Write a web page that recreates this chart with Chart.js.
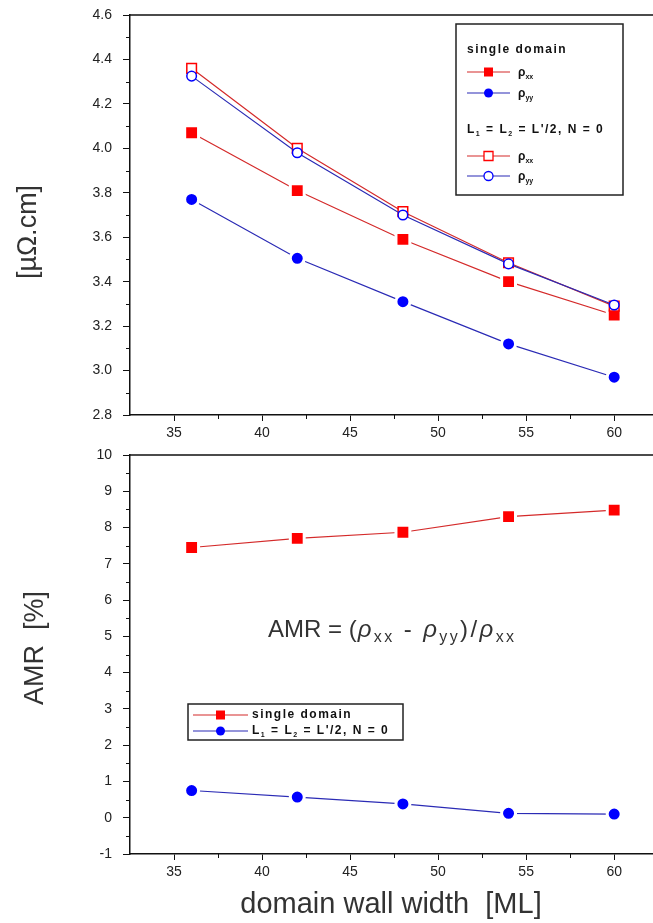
<!DOCTYPE html>
<html>
<head>
<meta charset="utf-8">
<script src="https://cdn.jsdelivr.net/npm/chart.js@4.4.1/dist/chart.umd.min.js"></script>
<style>
  html, body { margin: 0; padding: 0; background: #fff; overflow: hidden; }
  body { width: 653px; height: 923px; position: relative; }
  .box { position: absolute; left: 0; width: 671px; }
  #topBox { top: 0; height: 450px; }
  #bottomBox { top: 440px; height: 483px; }
</style>
</head>
<body>
<div class="box" id="topBox"><canvas id="top"></canvas></div>
<div class="box" id="bottomBox"><canvas id="bottom"></canvas></div>
<script>
// domain wall width [ML]
const widths = [36, 42, 48, 54, 60];

// resistivity, µΩ.cm
const rhoXXSingle = [4.07, 3.81, 3.59, 3.40, 3.25];
const rhoYYSingle = [3.77, 3.505, 3.31, 3.12, 2.97];
const rhoXXSplit = [4.36, 4.00, 3.715, 3.485, 3.29];
const rhoYYSplit = [4.325, 3.98, 3.70, 3.48, 3.295];

// AMR, %
const amrSingle = [7.45, 7.7, 7.87, 8.3, 8.48];
const amrSplit = [0.75, 0.57, 0.38, 0.12, 0.1];

// axis ticks
const xTicks = [35, 40, 45, 50, 55, 60];
const xMinor = [37.5, 42.5, 47.5, 52.5, 57.5];
const rhoTicks = [2.8, 3.0, 3.2, 3.4, 3.6, 3.8, 4.0, 4.2, 4.4, 4.6];
const rhoMinor = [2.9, 3.1, 3.3, 3.5, 3.7, 3.9, 4.1, 4.3, 4.5];
const amrTicks = [-1, 0, 1, 2, 3, 4, 5, 6, 7, 8, 9, 10];
const amrMinor = [-0.5, 0.5, 1.5, 2.5, 3.5, 4.5, 5.5, 6.5, 7.5, 8.5, 9.5];

const FONT = 'Arial, "Liberation Sans", sans-serif';
const RED = '#ff0000', RED_LINE = '#d42a2a';
const BLUE = '#0000ff', BLUE_LINE = '#2b2bb5';

const pts = ys => widths.map((w, i) => ({ x: w, y: ys[i] }));

function filled(label, ys, color, lineColor, style) {
  return {
    label, data: pts(ys), borderColor: lineColor, borderWidth: 1.2,
    pointStyle: style, pointRadius: style === 'rect' ? 9.8 : 7,
    pointBackgroundColor: color, pointBorderColor: '#fff', pointBorderWidth: 3
  };
}
function open(label, ys, color, lineColor, style) {
  return {
    label, data: pts(ys), borderColor: lineColor, borderWidth: 1.2,
    pointStyle: style, pointRadius: style === 'rect' ? 6.8 : 4.8,
    pointBackgroundColor: '#fff', pointBorderColor: color, pointBorderWidth: 1.5
  };
}

// text with subscripts: parts = [[text, isSub, italic], ...]
function subText(ctx, parts, x, y, size, weight, spacing, subScale = 0.62) {
  ctx.textAlign = 'left';
  ctx.textBaseline = 'middle';
  for (const [t, sub, italic] of parts) {
    const s = sub ? Math.round(size * subScale) : size;
    ctx.font = (italic ? 'italic ' : '') + weight + ' ' + s + 'px ' + FONT;
    if ('letterSpacing' in ctx) ctx.letterSpacing = spacing + 'px';
    ctx.fillText(t, x, sub ? y + size * 0.3 : y);
    x += ctx.measureText(t).width;
  }
  if ('letterSpacing' in ctx) ctx.letterSpacing = '0px';
  return x;
}

function marker(ctx, style, fill, color, x, y, size) {
  ctx.beginPath();
  if (style === 'rect') ctx.rect(x - size / 2, y - size / 2, size, size);
  else ctx.arc(x, y, size / 2, 0, Math.PI * 2);
  if (fill) { ctx.fillStyle = color; ctx.fill(); }
  else { ctx.fillStyle = '#fff'; ctx.fill(); ctx.lineWidth = 1.3; ctx.strokeStyle = color; ctx.stroke(); }
}

function legendRow(ctx, x0, x1, y, style, fill, color, lineColor) {
  ctx.strokeStyle = lineColor;
  ctx.lineWidth = 1.2;
  ctx.beginPath(); ctx.moveTo(x0, y); ctx.lineTo(x1, y); ctx.stroke();
  marker(ctx, style, fill, color, (x0 + x1) / 2, y, 9);
  ctx.fillStyle = '#111';
}

// frame on top/right plus minor ticks
const frame = {
  id: 'frame',
  afterDraw(chart, args, opts) {
    const { ctx, chartArea: a, scales } = chart;
    ctx.save();
    ctx.strokeStyle = '#111';
    ctx.lineWidth = 1.5;
    ctx.beginPath();
    ctx.moveTo(a.left, a.top); ctx.lineTo(a.right, a.top); ctx.lineTo(a.right, a.bottom);
    ctx.stroke();
    ctx.lineWidth = 1;
    ctx.beginPath();
    opts.xMinor.forEach(v => {
      const px = Math.round(scales.x.getPixelForValue(v)) + 0.5;
      ctx.moveTo(px, a.bottom); ctx.lineTo(px, a.bottom + 4);
    });
    opts.yMinor.forEach(v => {
      const py = Math.round(scales.y.getPixelForValue(v)) + 0.5;
      ctx.moveTo(a.left, py); ctx.lineTo(a.left - 4, py);
    });
    ctx.stroke();
    ctx.restore();
  }
};

// axis titles and annotations
const decor = {
  id: 'decor',
  afterDraw(chart, args, opts) { opts.draw(chart.ctx, chart); }
};

function scales(yTicks, yMin, yMax) {
  return {
    x: {
      type: 'linear', min: 32.5, max: 62.5,
      afterBuildTicks: s => { s.ticks = xTicks.map(v => ({ value: v })); },
      afterFit: s => {
        s.height = s.chart.height - s.chart.options.bottomEdge;
        s.paddingLeft = 0; s.paddingRight = 0;
      },
      grid: { drawOnChartArea: false, tickLength: 6, color: '#111' },
      border: { color: '#111', width: 1.5 },
      ticks: { padding: 4, color: '#222', font: { family: FONT, size: 14 }, maxRotation: 0 }
    },
    y: {
      type: 'linear', min: yMin, max: yMax,
      afterBuildTicks: s => { s.ticks = yTicks.map(v => ({ value: v })); },
      afterFit: s => { s.width = 130; s.paddingTop = 0; s.paddingBottom = 0; },
      grid: { drawOnChartArea: false, tickLength: 7, color: '#111' },
      border: { color: '#111', width: 1.5 },
      ticks: {
        padding: 11, color: '#222', font: { family: FONT, size: 14 },
        callback: v => (yMax < 5 ? v.toFixed(1) : String(v))
      }
    }
  };
}

const common = {
  responsive: true,
  maintainAspectRatio: false,
  animation: false,
  events: [],
  plugins: { legend: { display: false }, tooltip: { enabled: false } }
};

new Chart(document.getElementById('top'), {
  type: 'line',
  data: {
    datasets: [
      open('rho_yy L1 = L2', rhoYYSplit, BLUE, BLUE_LINE, 'circle'),
      open('rho_xx L1 = L2', rhoXXSplit, RED, RED_LINE, 'rect'),
      filled('rho_xx single domain', rhoXXSingle, RED, RED_LINE, 'rect'),
      filled('rho_yy single domain', rhoYYSingle, BLUE, BLUE_LINE, 'circle')
    ]
  },
  options: {
    ...common,
    bottomEdge: 415,
    layout: { padding: { left: 0, top: 15, right: 2, bottom: 0 } },
    scales: scales(rhoTicks, 2.8, 4.6),
    plugins: {
      ...common.plugins,
      frame: { xMinor, yMinor: rhoMinor },
      decor: {
        draw(ctx) {
          ctx.save();
          ctx.fillStyle = '#333';
          ctx.translate(29, 232);
          ctx.rotate(-Math.PI / 2);
          ctx.font = '27px ' + FONT;
          ctx.textAlign = 'center';
          ctx.textBaseline = 'middle';
          ctx.fillText('[µΩ.cm]', 0, 0);
          ctx.restore();

          ctx.save();
          ctx.fillStyle = '#fff';
          ctx.fillRect(456, 24, 167, 171);
          ctx.strokeStyle = '#222';
          ctx.lineWidth = 1.5;
          ctx.strokeRect(456, 24, 167, 171);
          ctx.fillStyle = '#111';
          subText(ctx, [['single domain']], 467, 50, 12, 'bold', 1.5);
          legendRow(ctx, 467, 510, 72, 'rect', true, RED, RED_LINE);
          subText(ctx, [['ρ'], ['xx', true]], 518, 73, 12, 'bold', 0);
          legendRow(ctx, 467, 510, 93, 'circle', true, BLUE, BLUE_LINE);
          subText(ctx, [['ρ'], ['yy', true]], 518, 94, 12, 'bold', 0);
          subText(ctx, [['L'], ['1', true], [' = L'], ['2', true], [' = L\'/2, N = 0']], 467, 130, 12, 'bold', 1.5);
          legendRow(ctx, 467, 510, 156, 'rect', false, RED, RED_LINE);
          subText(ctx, [['ρ'], ['xx', true]], 518, 157, 12, 'bold', 0);
          legendRow(ctx, 467, 510, 176, 'circle', false, BLUE, BLUE_LINE);
          subText(ctx, [['ρ'], ['yy', true]], 518, 177, 12, 'bold', 0);
          ctx.restore();
        }
      }
    }
  },
  plugins: [frame, decor]
});

new Chart(document.getElementById('bottom'), {
  type: 'line',
  data: {
    datasets: [
      filled('single domain', amrSingle, RED, RED_LINE, 'rect'),
      filled("L1 = L2 = L'/2, N = 0", amrSplit, BLUE, BLUE_LINE, 'circle')
    ]
  },
  options: {
    ...common,
    bottomEdge: 414,
    layout: { padding: { left: 0, top: 15, right: 2, bottom: 0 } },
    scales: scales(amrTicks, -1, 10),
    plugins: {
      ...common.plugins,
      frame: { xMinor, yMinor: amrMinor },
      decor: {
        draw(ctx) {
          ctx.save();
          ctx.fillStyle = '#333';
          ctx.font = '29px ' + FONT;
          ctx.textAlign = 'center';
          ctx.textBaseline = 'middle';
          ctx.fillText('domain wall width  [ML]', 391, 465);
          ctx.font = '27px ' + FONT;
          ctx.translate(36, 208);
          ctx.rotate(-Math.PI / 2);
          ctx.fillText('AMR  [%]', 0, 0);
          ctx.restore();

          ctx.save();
          ctx.fillStyle = '#333';
          let x = subText(ctx, [['AMR = (']], 268, 190, 24, 'normal', 0);
          subText(ctx, [['ρ', false, true], ['xx', true], [' - '], ['ρ', false, true], ['yy', true],
            [')/'], ['ρ', false, true], ['xx', true]], x + 1, 190, 24, 'normal', 2.4, 0.66);

          ctx.fillStyle = '#fff';
          ctx.fillRect(188, 264, 215, 36);
          ctx.strokeStyle = '#222';
          ctx.lineWidth = 1.5;
          ctx.strokeRect(188, 264, 215, 36);
          legendRow(ctx, 193, 248, 275, 'rect', true, RED, RED_LINE);
          subText(ctx, [['single domain']], 252, 275, 12, 'bold', 1.5);
          legendRow(ctx, 193, 248, 291, 'circle', true, BLUE, BLUE_LINE);
          subText(ctx, [['L'], ['1', true], [' = L'], ['2', true], [' = L\'/2, N = 0']], 252, 291, 12, 'bold', 1.5);
          ctx.restore();
        }
      }
    }
  },
  plugins: [frame, decor]
});
</script>
</body>
</html>
